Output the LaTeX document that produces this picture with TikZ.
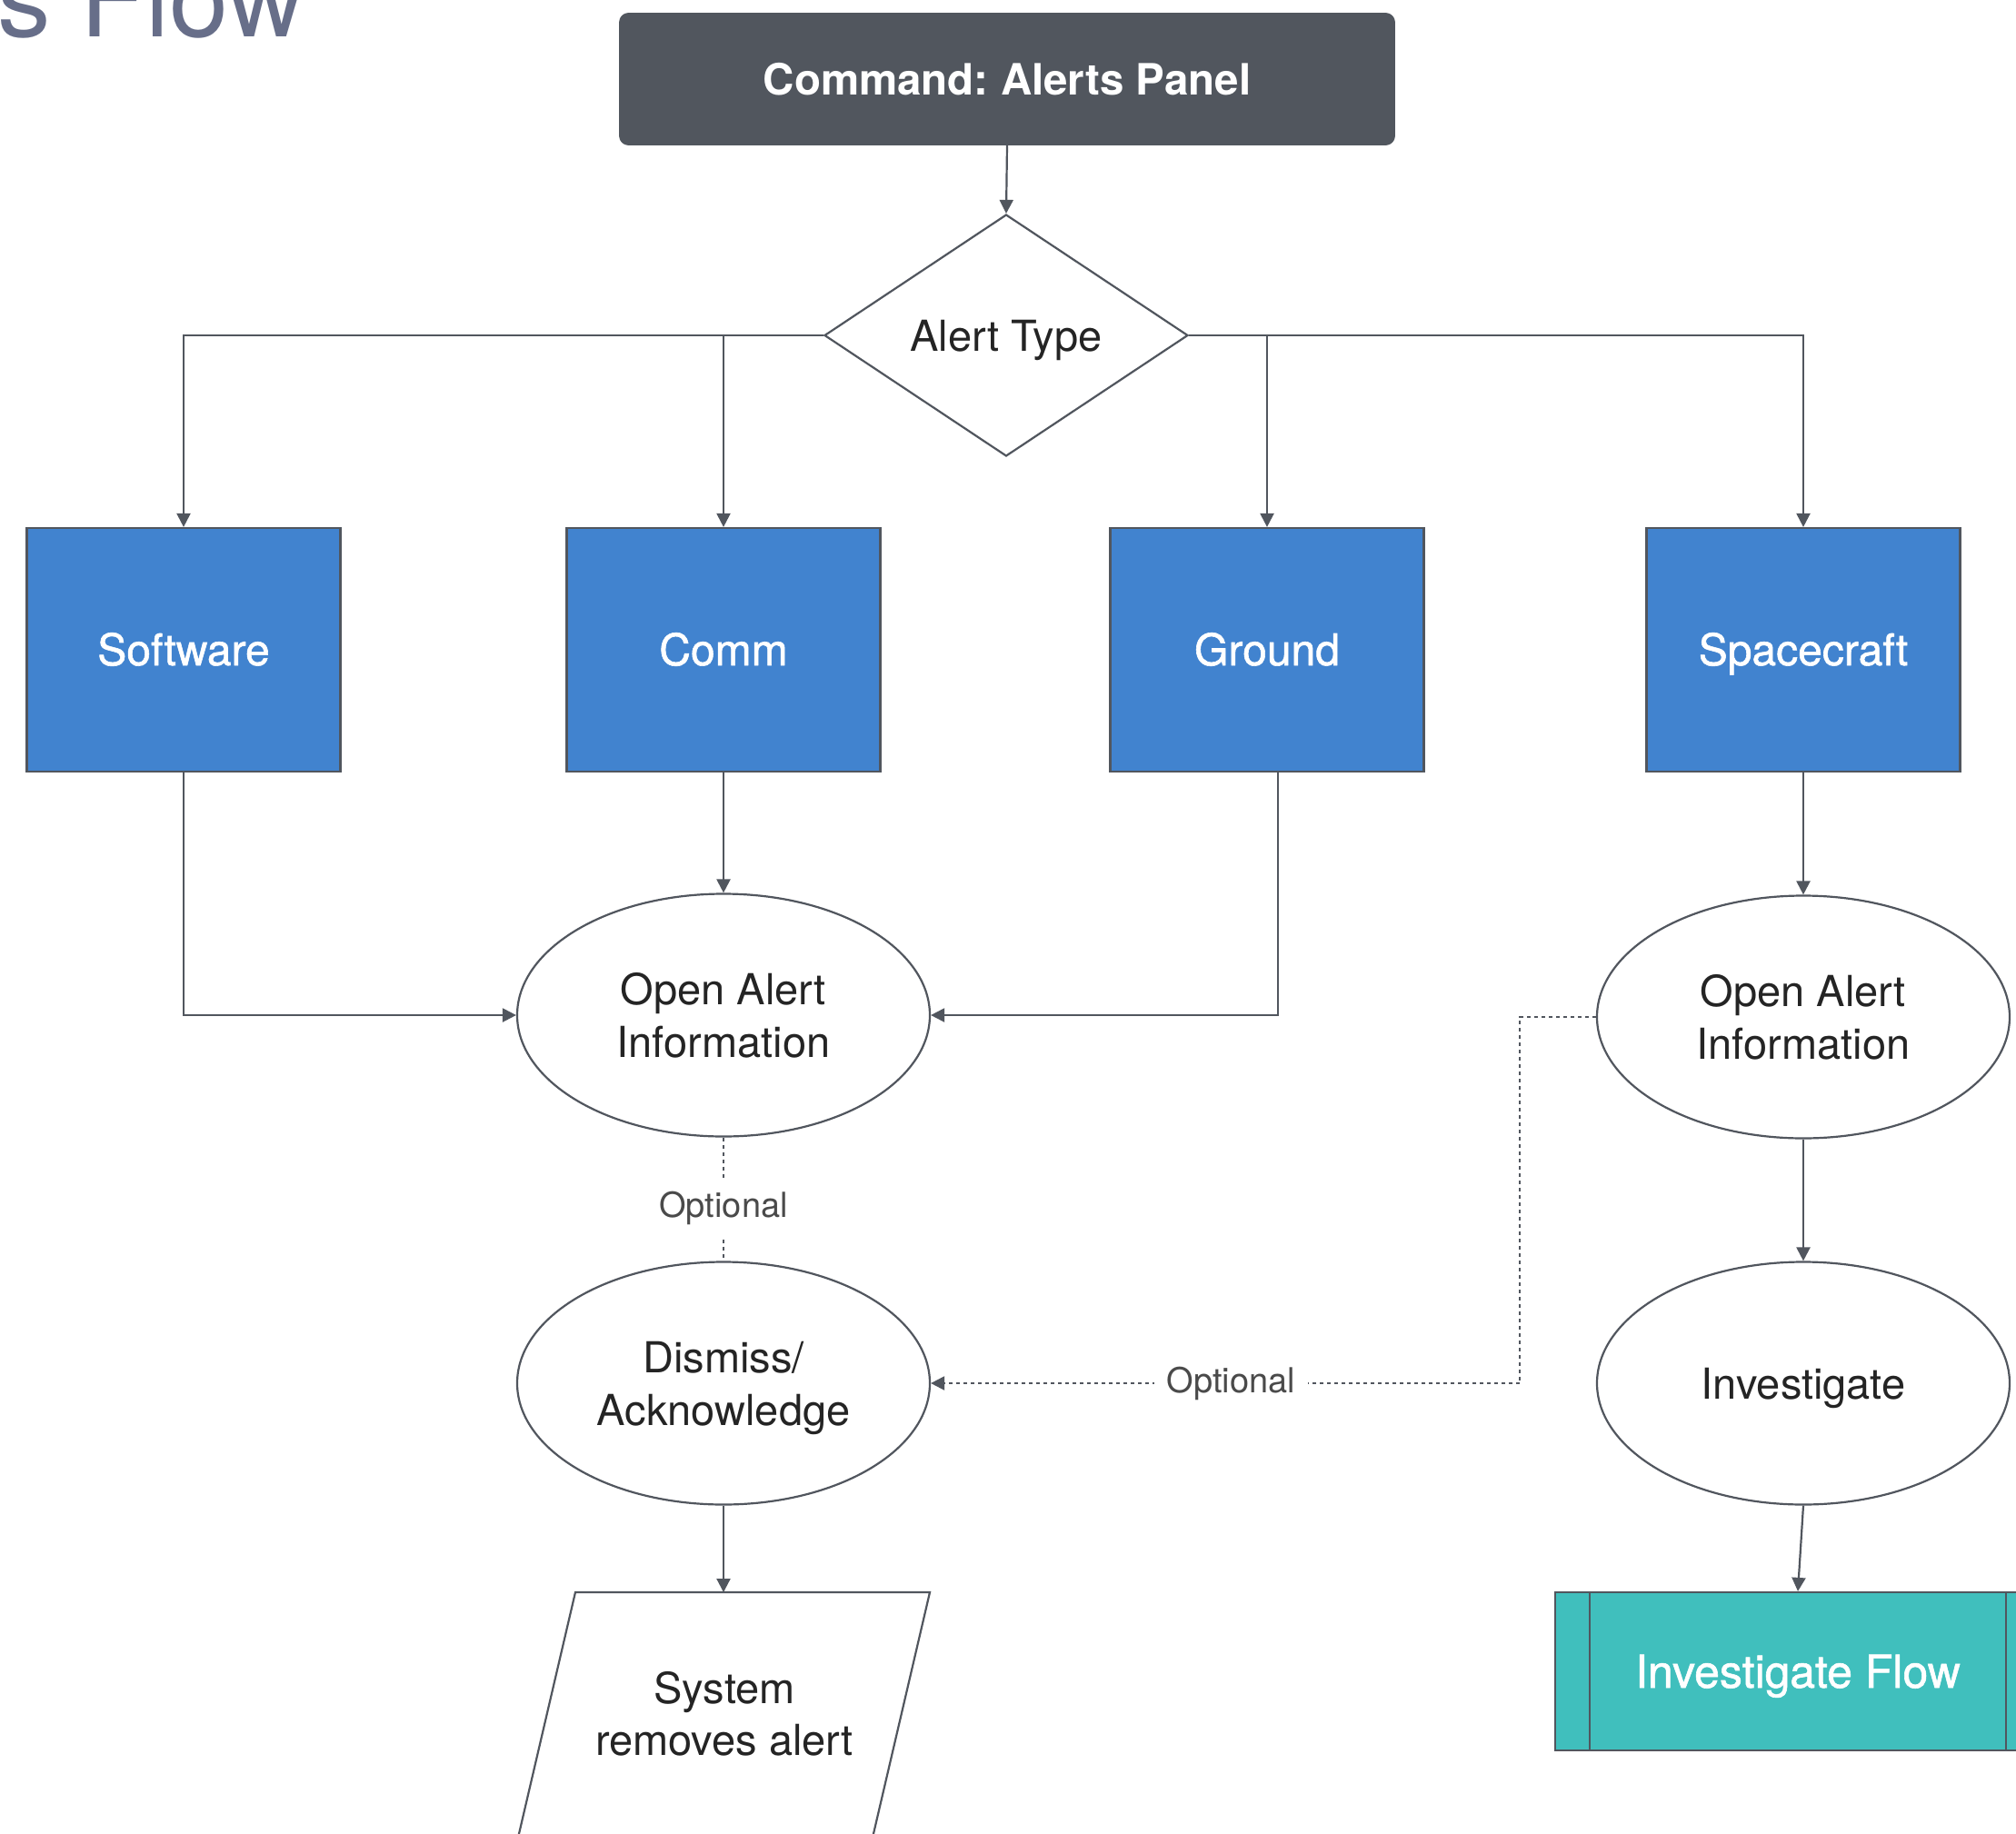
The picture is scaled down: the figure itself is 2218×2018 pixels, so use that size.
\documentclass[tikz,border=0pt]{standalone}
\usepackage{fontspec}
\setmainfont{TeX Gyre Heros}
\newfontfamily\medfont[FakeBold=1.2]{TeX Gyre Heros}
\usetikzlibrary{shapes.geometric,arrows.meta,calc}
\definecolor{lg}{RGB}{81,86,94}
\definecolor{boxblue}{RGB}{65,131,207}
\definecolor{teal2}{RGB}{64,191,189}
\definecolor{txt}{RGB}{36,36,36}
\definecolor{opttxt}{RGB}{74,74,74}
\definecolor{titlec}{RGB}{103,110,137}
\frenchspacing
\begin{document}
\begin{tikzpicture}[x=0.5pt,y=-0.5pt,
  conn/.style={draw=lg, line width=1.1pt},
  arr/.style={conn, -{Triangle[length=7.5pt,width=7.5pt]}},
  dsh/.style={conn, dash pattern=on 2pt off 2pt},
  cmdbox/.style={rectangle, rounded corners=5pt, fill=lg, draw=lg, minimum width=426.5pt, minimum height=72.5pt, text=white, text height=17pt, text depth=0pt, font=\bfseries\fontsize{23.75}{29}\selectfont},
  decide/.style={diamond, draw=lg, line width=1.1pt, fill=white, minimum width=200pt, minimum height=133pt, inner sep=0pt, text=txt, text height=17pt, text depth=0pt, font=\fontsize{23.5}{29}\selectfont},
  bluebox/.style={rectangle, draw=lg, line width=1.1pt, fill=boxblue, minimum width=172.5pt, minimum height=134pt, text=white, text height=17pt, text depth=0pt, font=\medfont\fontsize{24}{29}\selectfont},
  ell/.style={ellipse, draw=lg, line width=1.1pt, fill=white, minimum width=227pt, minimum height=133.5pt, inner sep=0pt, align=center, text=txt, text depth=0pt, font=\fontsize{23.5}{29}\selectfont},
  opt/.style={fill=white, inner sep=7pt, text=opttxt, font=\fontsize{19}{23}\selectfont},
  subproc/.style={rectangle, draw=lg, line width=1.1pt, fill=teal2, minimum width=267pt, minimum height=87pt, text=white, text height=18pt, text depth=0pt, font=\medfont\fontsize{25}{30}\selectfont}
]
\useasboundingbox (0,0) rectangle (2218,2018);
\clip (0,0) rectangle (2218,2018);
\fill[white] (0,0) rectangle (2218,2018);

% title fragment
\node[anchor=base east, inner sep=0pt, text=titlec, font=\fontsize{58.5}{70}\selectfont] (title) at (335,40) {s Flow};

% nodes
\node[cmdbox] (cmd) at (1108,87) {Command: Alerts Panel};
\node[decide] (type) at (1107,369) {Alert Type};
\node[bluebox] (soft) at (202,715) {Software};
\node[bluebox] (comm) at (796,715) {Comm};
\node[bluebox] (gnd) at (1394,715) {Ground};
\node[bluebox] (sc) at (1984,715) {Spacecraft};
\node[ell] (oai1) at (796,1117) {Open Alert\\Information};
\node[ell] (dis) at (796,1522) {Dismiss/\\Acknowledge};
\node[ell] (oai2) at (1984,1119) {Open Alert\\Information};
\node[ell, text height=17pt] (inv) at (1984,1522) {Investigate};
\node[subproc] (iflow) at (1978,1839) {Investigate Flow};
\draw[conn] ([xshift=19.5pt]iflow.north west) -- ([xshift=19.5pt]iflow.south west);
\draw[conn] ([xshift=-19.5pt]iflow.north east) -- ([xshift=-19.5pt]iflow.south east);

% parallelogram (data)
\draw[conn] (633,1752) -- (1023,1752) -- (960,2022) -- (570,2022) -- cycle;
\coordinate (systop) at (796,1752);
\node[align=center, inner sep=0pt, text=txt, font=\fontsize{23.5}{28.5}\selectfont] (sys) at (797,1886) {System\\removes alert};

% connectors
\draw[arr] (cmd.south) -- (type.north);
\draw[arr] (type.west) -| (soft.north);
\draw[arr] (type.west -| comm.north) -- (comm.north);
\draw[arr] (type.east) -| (sc.north);
\draw[arr] (type.east -| gnd.north) -- (gnd.north);

\draw[arr] (soft.south) |- (oai1.west);
\draw[arr] (comm.south) -- (oai1.north);
\draw[arr] ([xshift=6pt]gnd.south) |- (oai1.east);
\draw[arr] (sc.south) -- (oai2.north);

\draw[dsh] (oai1.south) -- node[opt, pos=0.57] (opt1) {Optional} (dis.north);
\coordinate (bend1) at (1672,1119);
\coordinate (bend2) at (1672,1522);
\draw[dsh] (oai2.west) -- (bend1) -- (bend2);
\draw[dsh, -{Triangle[length=7.5pt,width=7.5pt]}] (bend2) -- node[opt, pos=0.49] (opt2) {Optional} (dis.east);

\draw[arr] (oai2.south) -- (inv.north);
\draw[arr] (inv.south) -- (iflow.north);
\draw[arr] (dis.south) -- (systop);
\end{tikzpicture}
\end{document}
